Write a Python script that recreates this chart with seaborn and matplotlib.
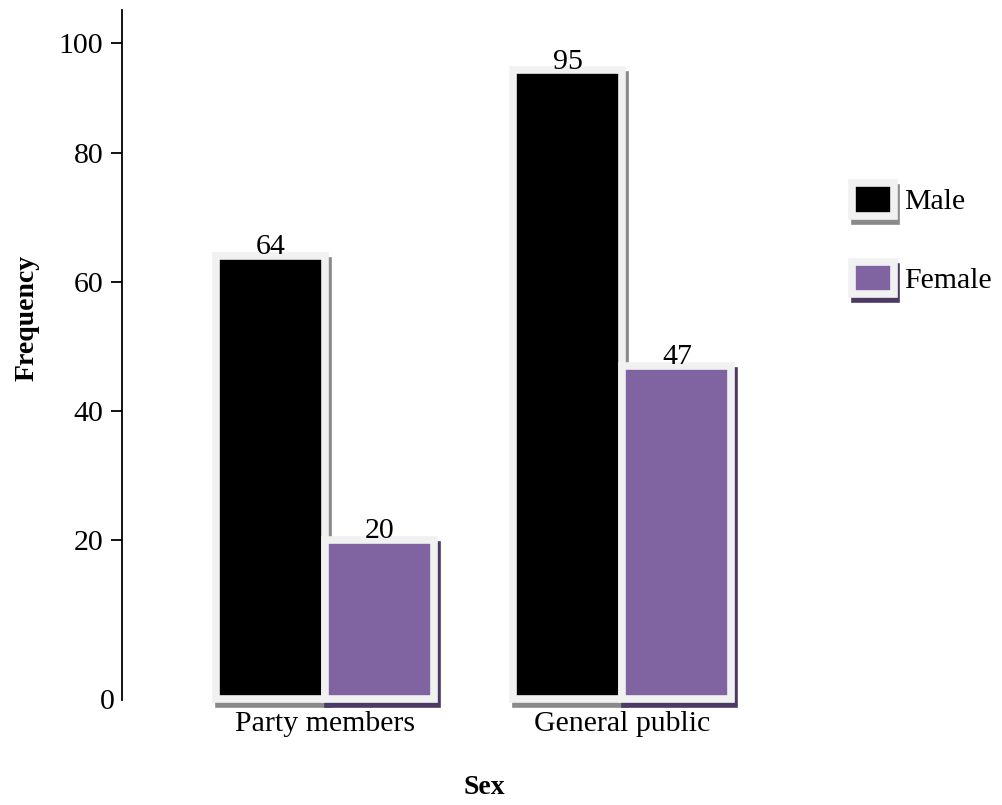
import numpy as np
import pandas as pd
import matplotlib
matplotlib.use("Agg")
import matplotlib.pyplot as plt
import matplotlib.patheffects as pe
from matplotlib.patches import Patch
import seaborn as sns

# ---- data ----
groups = ["Party members", "General public"]
sexes = ["Male", "Female"]
male_freq = [64, 95]
female_freq = [20, 47]
y_ticks = [0, 20, 40, 60, 80, 100]
y_tick_labels = ["0", "20", "40", "60", "80", "100"]

# ---- style ----
sns.set_style("white")
plt.rcParams["font.family"] = ["Liberation Serif", "DejaVu Serif"]
plt.rcParams["text.color"] = "black"
plt.rcParams["axes.labelcolor"] = "black"
plt.rcParams["xtick.color"] = "black"
plt.rcParams["ytick.color"] = "black"
FS = 21.5
LFS = 20
colors = {"Male": "#000000", "Female": "#8064A2"}
shadow_colors = {"Male": "#8A8A8A", "Female": "#4B3A63"}
frame_color = "#F1F1F1"
frame_lw = 5.5

df = pd.DataFrame({
    "Group": groups * 2,
    "Sex": ["Male"] * len(groups) + ["Female"] * len(groups),
    "Frequency": male_freq + female_freq,
})

# irregular (piecewise) value axis as in the source chart
K = np.array(y_ticks, float)
P = np.array([0, 159, 288, 417, 546, 656], float)


def _pw(v, a, b):
    v = np.asarray(v, float)
    out = np.interp(v, a, b)
    out = np.where(v < a[0], b[0] + (v - a[0]) * (b[1] - b[0]) / (a[1] - a[0]), out)
    out = np.where(v > a[-1], b[-1] + (v - a[-1]) * (b[-1] - b[-2]) / (a[-1] - a[-2]), out)
    return out


def fwd(v):
    return _pw(v, K, P)


def inv(v):
    return _pw(v, P, K)


fig = plt.figure(figsize=(10.02, 8.05), dpi=100)
ax = fig.add_axes([122 / 1002, 105 / 805, 678 / 1002, 690 / 805])

sns.barplot(data=df, x="Group", y="Frequency", hue="Sex", hue_order=sexes,
            order=groups, palette=colors, width=0.734, saturation=1,
            legend=False, ax=ax)

ax.set_yscale("function", functions=(fwd, inv))
ax.set_ylim(inv(-1), inv(689))
ax.set_xlim(-0.685, 1.598)

for cont, sex in zip(ax.containers, sexes):
    for bar in cont:
        bar.set_facecolor(colors[sex])
        bar.set_edgecolor(frame_color)
        bar.set_linewidth(frame_lw)
        bar.set_clip_on(False)
        bar.set_path_effects([
            pe.SimplePatchShadow(offset=(1.8, -3.6), shadow_rgbFace=shadow_colors[sex],
                                 alpha=1, foreground=shadow_colors[sex],
                                 linewidth=frame_lw),
            pe.Normal()])
        h = bar.get_height()
        ax.annotate(f"{h:.0f}", (bar.get_x() + bar.get_width() / 2, h),
                    xytext=(0, 1.3), textcoords="offset points",
                    ha="center", va="baseline", fontsize=FS, zorder=5,
                    color="black", annotation_clip=False)

# axes styling
for s in ["top", "right", "bottom"]:
    ax.spines[s].set_visible(False)
ax.spines["left"].set_linewidth(1.3)
ax.spines["left"].set_color("black")
ax.set_yticks(y_ticks)
ax.set_yticklabels(y_tick_labels)
ax.yaxis.set_minor_locator(matplotlib.ticker.NullLocator())
ax.tick_params(axis="y", direction="out", length=8, width=1.3, pad=5.5,
               labelsize=FS, left=True, colors="black")
ax.tick_params(axis="x", length=0, pad=8, labelsize=FS, colors="black")
t0 = ax.yaxis.get_major_ticks()[0]
t0._apply_params(size=0)
t0.tick1line.set_visible(False)

ax.set_xlabel("Sex", fontsize=LFS, fontweight="bold", color="black")
ax.set_ylabel("Frequency", fontsize=LFS, fontweight="bold", color="black")
ax.xaxis.set_label_coords(0.535, -0.108)
ax.yaxis.set_label_coords(-0.122, 0.554)

# legend
handles = [
    Patch(facecolor=colors[s], edgecolor=frame_color, linewidth=frame_lw, label=s,
          path_effects=[pe.SimplePatchShadow(offset=(1.8, -3.6),
                                             shadow_rgbFace=shadow_colors[s], alpha=1,
                                             foreground=shadow_colors[s],
                                             linewidth=frame_lw),
                        pe.Normal()])
    for s in sexes
]
leg = fig.legend(handles=handles, loc="upper left",
                 bbox_to_anchor=(852 / 1002, 1 - 183 / 805),
                 frameon=False, fontsize=FS, handlelength=1.4, handleheight=1.3,
                 handletextpad=0.33, labelspacing=1.55, borderpad=0, borderaxespad=0)
for t in leg.get_texts():
    t.set_color("black")

fig.savefig("out.png", dpi=100)
